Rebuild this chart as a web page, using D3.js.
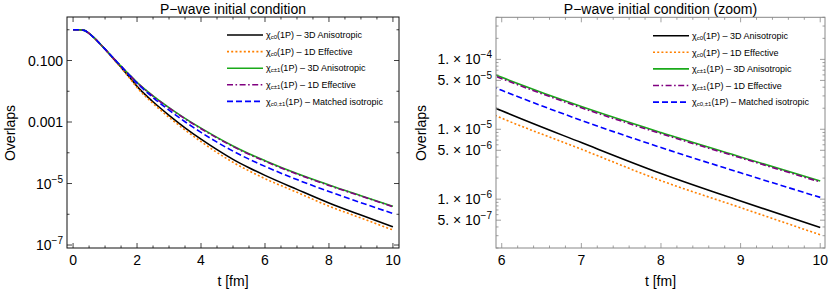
<!DOCTYPE html>
<html lang="en">
<head>
<meta charset="UTF-8">
<title>P-wave initial condition overlaps</title>
<script src="https://d3js.org/d3.v7.min.js"></script>
<style>
  body { margin: 0; background: #fff; }
  svg { display: block; font-family: "Liberation Sans", Arial, sans-serif; }
</style>
</head>
<body>
<svg width="830" height="296"></svg>
<script>
// time grid (fm) and overlaps
const tValues    = [0, 0.2, 0.35, 0.5, 0.75, 1, 1.25, 1.5, 1.75, 2, 2.5, 3, 3.5, 4, 4.5, 5, 5.5, 6, 7, 8, 9, 10];
const chiC0Aniso = [1, 1, 0.955, 0.76, 0.44, 0.232, 0.118, 0.06, 0.030, 0.0144, 0.00455, 0.00165, 6.5e-4, 2.77e-4, 1.26e-4, 6.1e-5, 3.26e-5, 1.84e-5, 6.45e-6, 2.33e-6, 9.4e-7, 3.94e-7];
const chiC0Eff   = [1, 1, 0.955, 0.76, 0.44, 0.23, 0.116, 0.058, 0.028, 0.0132, 0.0040, 0.00142, 5.5e-4, 2.3e-4, 1.02e-4, 4.9e-5, 2.58e-5, 1.44e-5, 5.18e-6, 1.84e-6, 7.56e-7, 3.09e-7];
const chiC1Aniso = [1, 1, 0.955, 0.76, 0.44, 0.234, 0.123, 0.066, 0.0355, 0.0195, 0.0071, 0.00295, 0.00132, 6.3e-4, 3.16e-4, 1.66e-4, 9.3e-5, 5.53e-5, 2.11e-5, 8.97e-6, 4.02e-6, 1.82e-6];
const chiC1Eff   = [1, 1, 0.955, 0.76, 0.44, 0.234, 0.122, 0.065, 0.0348, 0.0190, 0.0069, 0.00286, 0.00127, 6.05e-4, 3.04e-4, 1.6e-4, 8.9e-5, 5.3e-5, 2.03e-5, 8.65e-6, 3.9e-6, 1.76e-6];
const chiIso     = [1, 1, 0.955, 0.76, 0.44, 0.234, 0.123, 0.065, 0.034, 0.0183, 0.00625, 0.00242, 0.00102, 4.6e-4, 2.21e-4, 1.13e-4, 6.2e-5, 3.61e-5, 1.34e-5, 5.48e-6, 2.38e-6, 1.06e-6];

const legendSubs  = ["c0", "c0", "c±1", "c±1", "c0,±1"];
const legendTexts = ["(1P) – 3D Anisotropic", "(1P) – 1D Effective", "(1P) – 3D Anisotropic", "(1P) – 1D Effective", "(1P) – Matched isotropic"];

const leftXTicks  = [0, 2, 4, 6, 8, 10];
const rightXTicks = [6, 7, 8, 9, 10];
const leftYTicks  = [0.1, 0.001, 1e-5, 1e-7];
const leftYLabels = [["0.100", ""], ["0.001", ""], ["10", "−5"], ["10", "−7"]];
const rightYTicks  = [1e-4, 5e-5, 1e-5, 5e-6, 1e-6, 5e-7];
const rightYLabels = [["1. × 10", "−4"], ["5. × 10", "−5"], ["1. × 10", "−5"], ["5. × 10", "−6"], ["1. × 10", "−6"], ["5. × 10", "−7"]];

const series = [
  { values: chiC0Aniso, color: "#000000", dash: null },
  { values: chiC0Eff,   color: "#ff8000", dash: "2,2.2" },
  { values: chiC1Aniso, color: "#1aaa1a", dash: null },
  { values: chiC1Eff,   color: "#800080", dash: "6,2.5,1.6,2.5" },
  { values: chiIso,     color: "#0000ff", dash: "6,3" }
];

const svg = d3.select("svg");

function drawPanel(cfg, idx) {
  const x = d3.scaleLinear().domain(cfg.xDomain).range([cfg.left, cfg.right]);
  const y = d3.scaleLog().domain(cfg.yDomain).range([cfg.bottom, cfg.top]);
  const g = svg.append("g");

  g.append("clipPath").attr("id", "clip" + idx)
    .append("rect")
    .attr("x", cfg.left).attr("y", cfg.top)
    .attr("width", cfg.right - cfg.left).attr("height", cfg.bottom - cfg.top);

  // curves
  const line = d3.line()
    .x((d, i) => x(tValues[i]))
    .y(d => y(d))
    .curve(d3.curveMonotoneX);

  const plot = g.append("g").attr("clip-path", "url(#clip" + idx + ")");
  series.forEach(s => {
    plot.append("path")
      .attr("d", line(s.values))
      .attr("fill", "none")
      .attr("stroke", s.color)
      .attr("stroke-width", 1.6)
      .attr("stroke-dasharray", s.dash);
  });

  // frame
  g.append("rect")
    .attr("x", cfg.left).attr("y", cfg.top)
    .attr("width", cfg.right - cfg.left).attr("height", cfg.bottom - cfg.top)
    .attr("fill", "none").attr("stroke", cfg.frame).attr("stroke-width", 1);

  // x ticks (inward, mirrored)
  const xMinor = d3.range(Math.ceil(cfg.xDomain[0] / cfg.xMinorStep) * cfg.xMinorStep, cfg.xDomain[1], cfg.xMinorStep);
  xMinor.forEach(v => {
    const major = cfg.xTicks.some(m => Math.abs(m - v) < 1e-6);
    const len = major ? 5 : 2.5;
    const xx = x(v);
    g.append("line").attr("x1", xx).attr("x2", xx).attr("y1", cfg.bottom).attr("y2", cfg.bottom - len)
      .attr("stroke", cfg.frame).attr("stroke-width", 0.8);
    g.append("line").attr("x1", xx).attr("x2", xx).attr("y1", cfg.top).attr("y2", cfg.top + len)
      .attr("stroke", cfg.frame).attr("stroke-width", 0.8);
  });
  cfg.xTicks.forEach(v => {
    g.append("text").attr("x", x(v)).attr("y", cfg.bottom + 17)
      .attr("text-anchor", "middle").attr("font-size", 14).attr("fill", "#000")
      .text(v);
  });

  // y ticks
  const yMinor = [];
  for (let e = -8; e <= 1; e++) {
    cfg.yMinorMults.forEach(k => {
      const v = k * Math.pow(10, e);
      if (v >= cfg.yDomain[0] && v <= cfg.yDomain[1]) yMinor.push(v);
    });
  }
  yMinor.forEach(v => {
    const major = cfg.yTicks.some(m => Math.abs(m - v) / m < 1e-6);
    const len = major ? 5 : 2.5;
    const yy = y(v);
    g.append("line").attr("x1", cfg.left).attr("x2", cfg.left + len).attr("y1", yy).attr("y2", yy)
      .attr("stroke", cfg.frame).attr("stroke-width", 0.8);
    g.append("line").attr("x1", cfg.right).attr("x2", cfg.right - len).attr("y1", yy).attr("y2", yy)
      .attr("stroke", cfg.frame).attr("stroke-width", 0.8);
  });
  cfg.yTicks.forEach((v, i) => {
    const lab = cfg.yLabels[i];
    const t = g.append("text").attr("x", cfg.left - 4).attr("y", y(v) + 5)
      .attr("text-anchor", "end").attr("font-size", 14).attr("fill", "#000");
    t.append("tspan").text(lab[0]);
    if (lab[1]) t.append("tspan").attr("dy", -6).attr("font-size", 10).text(lab[1]);
  });

  // titles
  const cx = (cfg.left + cfg.right) / 2;
  g.append("text").attr("x", cx).attr("y", 14).attr("text-anchor", "middle")
    .attr("font-size", 14).attr("fill", "#000").text(cfg.title);
  g.append("text").attr("x", cx).attr("y", 286).attr("text-anchor", "middle")
    .attr("font-size", 14).attr("fill", "#000").text("t [fm]");
  g.append("text").attr("transform", `translate(${cfg.yLabelX},133) rotate(-90)`)
    .attr("text-anchor", "middle").attr("font-size", 14).attr("fill", "#000").text("Overlaps");

  // legend
  series.forEach((s, i) => {
    const ly = cfg.legendY + i * 16.6;
    g.append("line").attr("x1", cfg.legendX).attr("x2", cfg.legendX + 36).attr("y1", ly).attr("y2", ly)
      .attr("stroke", s.color).attr("stroke-width", 1.6).attr("stroke-dasharray", s.dash);
    const t = g.append("text").attr("x", cfg.legendX + 39).attr("y", ly + 3.2)
      .attr("font-size", 9).attr("fill", "#000");
    t.append("tspan").text("χ");
    t.append("tspan").attr("font-size", 6).attr("dy", 1).text(legendSubs[i]);
    t.append("tspan").attr("dy", -1).text(legendTexts[i]);
  });
}

drawPanel({
  left: 67, right: 399, top: 17, bottom: 248,
  xDomain: [-0.19, 10.19], yDomain: [8e-8, 2.6],
  xTicks: leftXTicks, xMinorStep: 0.5,
  yTicks: leftYTicks, yLabels: leftYLabels, yMinorMults: [1],
  frame: "#111", title: "P−wave initial condition", yLabelX: 15,
  legendX: 227, legendY: 35
}, 0);

drawPanel({
  left: 496, right: 825, top: 17.3, bottom: 248,
  xDomain: [5.928, 10.06], yDomain: [2e-7, 4e-4],
  xTicks: rightXTicks, xMinorStep: 0.2,
  yTicks: rightYTicks, yLabels: rightYLabels, yMinorMults: [1, 2, 3, 4, 5, 6, 7, 8, 9],
  frame: "#888", title: "P−wave initial condition (zoom)", yLabelX: 426,
  legendX: 653, legendY: 35.7
}, 1);
</script>
</body>
</html>
